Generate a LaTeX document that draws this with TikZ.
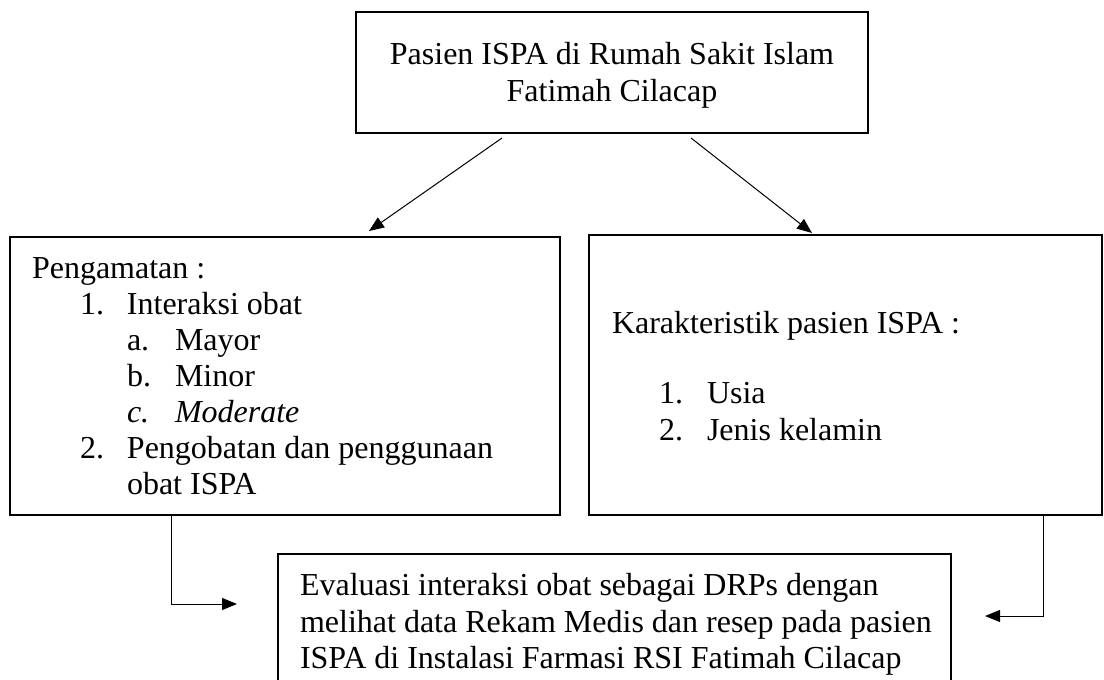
\documentclass[tikz,border=0pt]{standalone}
\usepackage{fontspec}
\setmainfont{Liberation Serif}
\usetikzlibrary{arrows.meta}
\begin{document}
\begin{tikzpicture}[x=1pt,y=-1pt,
  box/.style={draw, line width=2pt, inner sep=0pt, outer sep=0pt, anchor=north west},
  txt/.style={inner sep=0pt, outer sep=0pt, anchor=base west, font=\fontsize{32}{36}\selectfont},
  ctxt/.style={txt, anchor=base},
  arr/.style={line width=1pt, -{Triangle[length=15pt,width=12pt]}}]
\useasboundingbox (0,0) rectangle (1104,680);
\clip (0,0) rectangle (1104,680);
% boxes
\node[box, minimum width=512pt, minimum height=121pt] (top) at (356,12) {};
\node[box, minimum width=550pt, minimum height=278pt] (left) at (10,237) {};
\node[box, minimum width=513pt, minimum height=280pt] (right) at (589,235) {};
\node[box, minimum width=673pt, minimum height=166pt] (bottom) at (278,554) {};
% top text
\node[ctxt] (t1) at (612,64) {Pasien ISPA di Rumah Sakit Islam};
\node[ctxt] (t2) at (612,101) {Fatimah Cilacap};
% left text
\node[txt] (l0) at (32,278) {Pengamatan :};
\node[txt] (l1) at (80,314) {\makebox[47pt][l]{1.}Interaksi obat};
\node[txt] (l2) at (127,350) {\makebox[48pt][l]{a.}Mayor};
\node[txt] (l3) at (127,386) {\makebox[48pt][l]{b.}Minor};
\node[txt] (l4) at (127,422) {\itshape\makebox[48pt][l]{c.}Moderate};
\node[txt] (l5) at (80,458) {\makebox[47pt][l]{2.}Pengobatan dan penggunaan};
\node[txt] (l6) at (127,494) {obat ISPA};
% right text
\node[txt] (r0) at (612,333) {Karakteristik pasien ISPA :};
\node[txt] (r1) at (659,403) {\makebox[48pt][l]{1.}Usia};
\node[txt] (r2) at (659,440) {\makebox[48pt][l]{2.}Jenis kelamin};
% bottom text
\node[txt] (b1) at (300,595) {Evaluasi interaksi obat sebagai DRPs dengan};
\node[txt] (b2) at (300,632) {melihat data Rekam Medis dan resep pada pasien};
\node[txt] (b3) at (300,668) {ISPA di Instalasi Farmasi RSI Fatimah Cilacap};
% connectors
\draw[arr] ([xshift=146pt,yshift=-5pt]top.south west) -- ([xshift=359pt,yshift=6pt]left.north west);
\draw[arr] ([xshift=335pt,yshift=-5pt]top.south west) -- ([xshift=223pt,yshift=2pt]right.north west);
\draw[arr] ([xshift=161pt]left.south west) |- ([xshift=-41pt,yshift=-50pt]bottom.north west);
\draw[arr] ([xshift=-59pt]right.south east) |- ([xshift=34pt,yshift=-62pt]bottom.north east);
\end{tikzpicture}
\end{document}
